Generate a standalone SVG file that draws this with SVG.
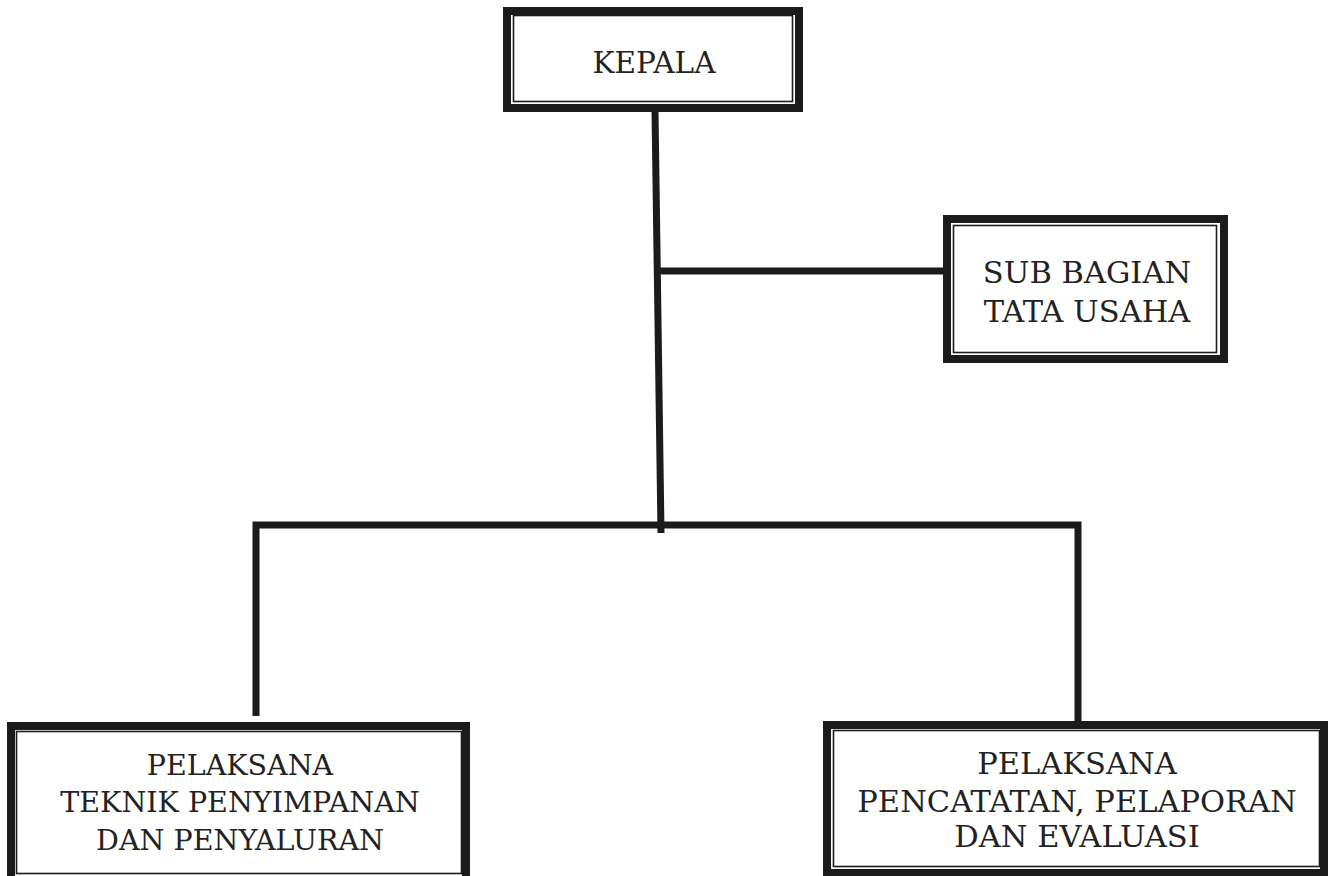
<svg xmlns="http://www.w3.org/2000/svg" width="1334" height="876" viewBox="0 0 1334 876">
<style>
.outer{fill:#fff;stroke:#1b1b1b;stroke-width:8}
.inner{fill:none;stroke:#1b1b1b;stroke-width:1.6}
.lbl{font-family:"DejaVu Serif","Liberation Serif",serif;fill:#222;text-anchor:middle}
.s1{font-size:29.5px}
.s2{font-size:30.5px}
.s3{font-size:28.5px}
.conn{fill:none;stroke:#1b1b1b;stroke-width:7;stroke-linejoin:miter;stroke-linecap:butt}
</style>
<rect width="1334" height="876" fill="#fff"/>
<g id="connectors">
<path class="conn" d="M655,111 L661,533"/>
<path class="conn" d="M658,271 H945"/>
<path class="conn" d="M256,716 V525 H1078 V722"/>
</g>
<g id="kepala">
<rect class="outer" x="507" y="11" width="292" height="97"/>
<rect class="inner" x="513.5" y="15.5" width="279" height="86"/>
<text class="lbl s1" x="654" y="73">KEPALA</text>
</g>
<g id="sub-bagian">
<rect class="outer" x="947" y="219" width="277" height="140"/>
<rect class="inner" x="953.5" y="225.5" width="263" height="127"/>
<text class="lbl s2" x="1087" y="283">SUB BAGIAN</text>
<text class="lbl s2" x="1087" y="322">TATA USAHA</text>
</g>
<g id="pelaksana-teknik">
<rect class="outer" x="11" y="726" width="455" height="154"/>
<rect class="inner" x="16.5" y="731.5" width="445" height="142"/>
<text class="lbl s3" x="240" y="775">PELAKSANA</text>
<text class="lbl s3" x="240" y="812">TEKNIK PENYIMPANAN</text>
<text class="lbl s3" x="240" y="850">DAN PENYALURAN</text>
</g>
<g id="pelaksana-pencatatan">
<rect class="outer" x="827" y="725" width="497" height="148"/>
<rect class="inner" x="833.5" y="730.5" width="486" height="136"/>
<text class="lbl s2" x="1077" y="774">PELAKSANA</text>
<text class="lbl s2" x="1077" y="812">PENCATATAN, PELAPORAN</text>
<text class="lbl s2" x="1077" y="847">DAN EVALUASI</text>
</g>
</svg>
